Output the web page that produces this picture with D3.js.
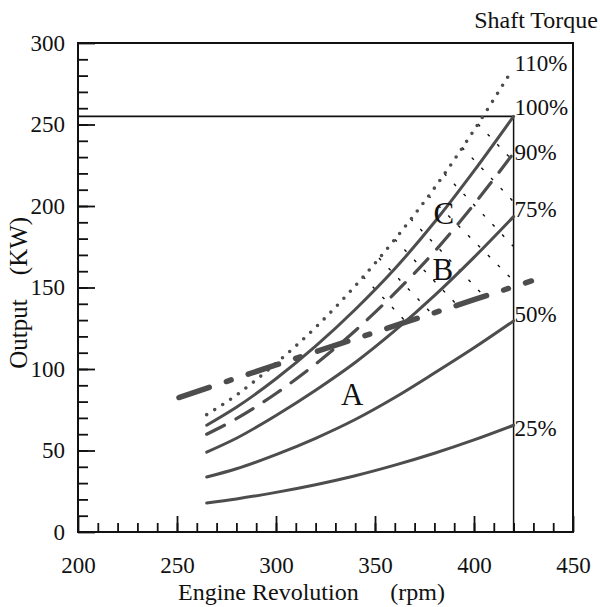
<!DOCTYPE html>
<html>
<head>
<meta charset="utf-8">
<script src="https://cdn.jsdelivr.net/npm/d3@7"></script>
<style>
  body { margin: 0; background: #fff; }
  text { font-family: 'Liberation Serif', 'Times New Roman', serif; fill: #111; }
</style>
</head>
<body>
<div id="chart"></div>
<script>
var rpm = [265, 280, 300, 320, 340, 360, 380, 400, 420]
var torque25 = [17.8, 20.3, 24.3, 29, 34.5, 41, 48.3, 56.5, 65.5]
var torque50 = [33.7, 38.8, 47.5, 57.5, 69, 82.5, 97.5, 113, 129.5]
var torque75 = [49, 57.5, 71.5, 87, 104, 123.5, 145, 168.5, 193.5]
var torque90 = [60, 69.5, 85, 103, 123.5, 146.5, 172, 201, 232.5]
var torque100 = [65.5, 76.5, 94, 114, 136.5, 161.5, 190, 221.5, 255]
var rpm110 = [265, 280, 300, 320, 340, 360, 380, 400, 418]
var torque110 = [72, 84, 103.5, 125.5, 151, 179.5, 211, 246.5, 281]

// heavy dash-dot limit line
var limitRpm = [251, 300, 350, 400, 429]
var limitKw = [82.5, 102.5, 122.5, 142.5, 154]

// rated point (max continuous output)
var ratedRpm = 420
var ratedKw = 255

// thin dotted hatch lines: start on the 110% curve, end on limit line / 420 rpm
var hatchStart = [[402, 250.3], [394, 235.9], [385, 219.9], [377, 206.3], [368, 192.1], [360, 179.5], [352, 168.1], [344, 156.7]]
var hatchEnd = [[420, 227.3], [420, 202.6], [420, 175.1], [420, 154.1], [405.4, 144.3], [391.8, 138.8], [378.9, 133.7], [366, 128.5]]

var pctLabels = ['110%', '100%', '90%', '75%', '50%', '25%']
var regionNames = ['A', 'B', 'C']
var regionRpm = [338.5, 384.3, 384.8]
var regionKw = [78, 154.6, 189]

var xTicks = [200, 250, 300, 350, 400, 450]
var yTicks = [0, 50, 100, 150, 200, 250, 300]

var width = 600
var height = 607

var svg = d3.select('#chart')
  .append('svg')
  .attr('width', width)
  .attr('height', height)

var x = d3.scaleLinear().domain([200, 450]).range([78, 573])
var y = d3.scaleLinear().domain([0, 300]).range([532, 43])

// minor ticks every 10
svg.append('g')
  .attr('transform', 'translate(0,' + y(0) + ')')
  .call(d3.axisBottom(x).tickValues(d3.range(210, 450, 10)).tickSizeInner(-9).tickSizeOuter(0).tickFormat(''))
svg.append('g')
  .attr('transform', 'translate(' + x(200) + ',0)')
  .call(d3.axisLeft(y).tickValues(d3.range(10, 300, 10)).tickSizeInner(-10).tickSizeOuter(0).tickFormat(''))

// major ticks + labels
svg.append('g')
  .attr('transform', 'translate(0,' + y(0) + ')')
  .call(d3.axisBottom(x).tickValues(xTicks).tickSizeInner(-16).tickSizeOuter(0).tickPadding(25))
svg.append('g')
  .attr('transform', 'translate(' + x(200) + ',0)')
  .call(d3.axisLeft(y).tickValues(yTicks).tickSizeInner(-17).tickSizeOuter(0).tickPadding(13))

svg.selectAll('.domain').remove()
svg.selectAll('.tick line').attr('stroke', '#111').attr('stroke-width', 1.8)
svg.selectAll('.tick text')
  .attr('font-size', 23)
  .attr('font-family', "'Liberation Serif', 'Times New Roman', serif")
  .attr('fill', '#111')

// frame
svg.append('rect')
  .attr('x', x(200)).attr('y', y(300))
  .attr('width', x(450) - x(200)).attr('height', y(0) - y(300))
  .attr('fill', 'none').attr('stroke', '#111').attr('stroke-width', 2)

// rated output lines
svg.append('line')
  .attr('x1', x(200)).attr('x2', x(ratedRpm))
  .attr('y1', y(ratedKw)).attr('y2', y(ratedKw))
  .attr('stroke', '#111').attr('stroke-width', 1.8)
svg.append('line')
  .attr('x1', x(ratedRpm)).attr('x2', x(ratedRpm))
  .attr('y1', y(ratedKw)).attr('y2', y(0))
  .attr('stroke', '#111').attr('stroke-width', 1.5)

// hatch
svg.append('g').selectAll('line')
  .data(hatchStart)
  .join('line')
  .attr('x1', d => x(d[0])).attr('y1', d => y(d[1]))
  .attr('x2', (d, i) => x(hatchEnd[i][0])).attr('y2', (d, i) => y(hatchEnd[i][1]))
  .attr('stroke', '#111').attr('stroke-width', 1.4)
  .attr('stroke-dasharray', '3,11')

var line = d3.line().x(d => x(d[0])).y(d => y(d[1])).curve(d3.curveMonotoneX)
function pairs(xs, ys) { return xs.map((v, i) => [v, ys[i]]) }

var curves = [
  { pts: pairs(rpm110, torque110), dash: '0,9.5', w: 3.6 },
  { pts: pairs(rpm, torque100), dash: null, w: 3 },
  { pts: pairs(rpm, torque90), dash: '20,13', w: 3.2 },
  { pts: pairs(rpm, torque75), dash: null, w: 3 },
  { pts: pairs(rpm, torque50), dash: null, w: 3 },
  { pts: pairs(rpm, torque25), dash: null, w: 3 }
]

svg.append('g').selectAll('path')
  .data(curves)
  .join('path')
  .attr('d', d => line(d.pts))
  .attr('fill', 'none')
  .attr('stroke', '#4d4d4d')
  .attr('stroke-width', d => d.w)
  .attr('stroke-linecap', 'round')
  .attr('stroke-dasharray', d => d.dash)

// limit line
svg.append('path')
  .attr('d', line(pairs(limitRpm, limitKw)))
  .attr('fill', 'none')
  .attr('stroke', '#4d4d4d')
  .attr('stroke-width', 5.5)
  .attr('stroke-linecap', 'round')
  .attr('stroke-dasharray', '32,18,5,18')

// percentage labels at curve ends
var labelDy = [-3, -1, 7, 0, 1, 11]
svg.append('g').selectAll('text')
  .data(curves)
  .join('text')
  .attr('x', x(ratedRpm) + 1)
  .attr('y', (d, i) => y(d.pts[d.pts.length - 1][1]) + labelDy[i])
  .attr('font-size', 23)
  .text((d, i) => pctLabels[i])

svg.append('text')
  .attr('x', 598).attr('y', 28)
  .attr('text-anchor', 'end')
  .attr('font-size', 24)
  .text('Shaft Torque')

// region letters
svg.append('g').selectAll('text')
  .data(regionNames)
  .join('text')
  .attr('x', (d, i) => x(regionRpm[i]))
  .attr('y', (d, i) => y(regionKw[i]))
  .attr('text-anchor', 'middle')
  .attr('font-size', 31)
  .text(d => d)

// axis titles
svg.append('text')
  .attr('x', 178).attr('y', 600)
  .attr('font-size', 24)
  .text('Engine Revolution')
svg.append('text')
  .attr('x', 445).attr('y', 600)
  .attr('text-anchor', 'end')
  .attr('font-size', 24)
  .text('(rpm)')

svg.append('text')
  .attr('transform', 'translate(27,334) rotate(-90)')
  .attr('text-anchor', 'middle')
  .attr('font-size', 25)
  .text('Output')
svg.append('text')
  .attr('transform', 'translate(27,246) rotate(-90)')
  .attr('text-anchor', 'middle')
  .attr('font-size', 25)
  .text('(KW)')
</script>
</body>
</html>
